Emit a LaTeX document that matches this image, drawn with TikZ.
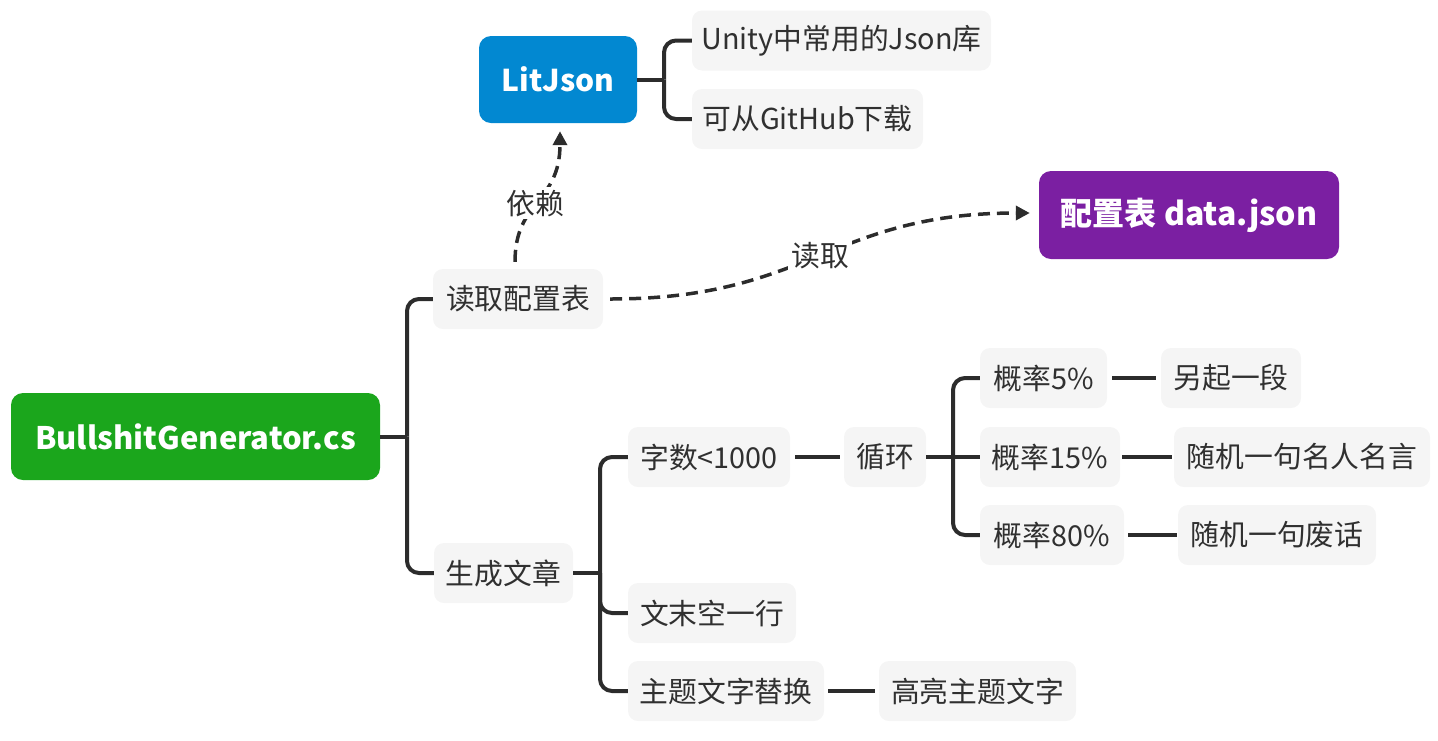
\documentclass[tikz,border=0pt]{standalone}
\usepackage{fontspec}
\setmainfont{Noto Sans CJK SC}
\usetikzlibrary{arrows.meta}
\definecolor{boxgray}{RGB}{245,245,245}
\definecolor{textc}{RGB}{48,48,48}
\definecolor{linec}{RGB}{44,44,44}
\definecolor{rootgreen}{RGB}{27,166,28}
\definecolor{litblue}{RGB}{2,136,209}
\definecolor{datapurple}{RGB}{123,31,162}
\begin{document}
\begin{tikzpicture}[x=1pt,y=-1pt,
  topic/.style={fill=boxgray, rounded corners=10pt, minimum height=60pt, inner sep=0pt, text=textc, font=\fontsize{28.8}{32}\selectfont},
  mainbox/.style={rounded corners=12pt, inner sep=0pt, text=white, font=\bfseries\fontsize{31}{36}\selectfont},
  conn/.style={line width=4pt, draw=linec, rounded corners=12pt},
  dep/.style={line width=3.5pt, draw=linec, dash pattern=on 12pt off 7pt, -{Triangle[length=14pt,width=14pt]}},
  lbl/.style={fill=white, inner sep=3pt, text=textc, font=\fontsize{28.8}{32}\selectfont}]
\useasboundingbox (0,0) rectangle (1438,740);

% main topics
\node[mainbox, fill=rootgreen, minimum width=369pt, minimum height=87pt] (root) at (195.5,436.5) {BullshitGenerator.cs};
\node[mainbox, fill=litblue, minimum width=158pt, minimum height=87pt, font=\bfseries\fontsize{30}{36}\selectfont] (lit) at (558,79.5) {LitJson};
\node[mainbox, fill=datapurple, minimum width=300pt, minimum height=88pt, font=\bfseries\fontsize{32}{36}\selectfont] (data) at (1189,215) {配置表 data.json};

% subtopics
\node[topic, minimum width=170pt] (read) at (518,299) {读取配置表};
\node[topic, minimum width=139pt] (gen) at (503.5,573) {生成文章};
\node[topic, minimum width=299pt] (unity) at (841.5,40.5) {Unity中常用的Json库};
\node[topic, minimum width=231pt] (github) at (807.5,119) {可从GitHub下载};
\node[topic, minimum width=162pt] (count) at (709,457) {字数<1000};
\node[topic, minimum width=82pt] (loop) at (885,457) {循环};
\node[topic, minimum width=127pt] (pa) at (1043.5,378) {概率5\%};
\node[topic, minimum width=140pt] (ra) at (1231,378) {另起一段};
\node[topic, minimum width=140pt] (pb) at (1050,457) {概率15\%};
\node[topic, minimum width=256pt] (rb) at (1302,457) {随机一句名人名言};
\node[topic, minimum width=144pt] (pc) at (1052,535) {概率80\%};
\node[topic, minimum width=198pt] (rc) at (1277,535) {随机一句废话};
\node[topic, minimum width=168pt] (blank) at (712,613) {文末空一行};
\node[topic, minimum width=196pt] (theme) at (726,691) {主题文字替换};
\node[topic, minimum width=197pt] (hl) at (977.5,691) {高亮主题文字};

% fork junctions
\coordinate (j1) at (407,436.5);
\coordinate (j2) at (600,573);
\coordinate (j3) at (953,457);
\coordinate (j4) at (664,79.5);

\draw[conn] (root.east) -- (j1);
\draw[conn] (read.west) -| (j1);
\draw[conn] (gen.west) -| (j1);

\draw[conn] (gen.east) -- (j2);
\draw[conn] (count.west) -| (j2);
\draw[conn] (blank.west) -| (j2);
\draw[conn] (theme.west) -| (j2);

\draw[conn] ([xshift=5pt]count.east) -- ([xshift=-4pt]loop.west);
\draw[conn] (loop.east) -- (j3);
\draw[conn] (pa.west) -| (j3);
\draw[conn] (pb.west) -- (j3);
\draw[conn] (pc.west) -| (j3);

\draw[conn] ([xshift=5pt]pa.east) -- ([xshift=-5pt]ra.west);
\draw[conn] ([xshift=2pt]pb.east) -- ([xshift=-2pt]rb.west);
\draw[conn] ([xshift=4pt]pc.east) -- ([xshift=-1pt]rc.west);
\draw[conn] ([xshift=4pt]theme.east) -- ([xshift=-4pt]hl.west);

\draw[conn] (lit.east) -- (j4);
\draw[conn] (unity.west) -| (j4);
\draw[conn] (github.west) -| (j4);

% dashed relations
\draw[dep] ([shift={(-3,-7)}]read.north) .. controls +(0,-62) and +(0,72) .. ([shift={(2,8)}]lit.south)
  node[lbl, pos=0.47] {依赖};
\draw[dep] ([xshift=7pt]read.east) .. controls +(200,0) and +(-200,0) .. ([shift={(-9,-2)}]data.west)
  node[lbl, pos=0.5] {读取};
\end{tikzpicture}
\end{document}
